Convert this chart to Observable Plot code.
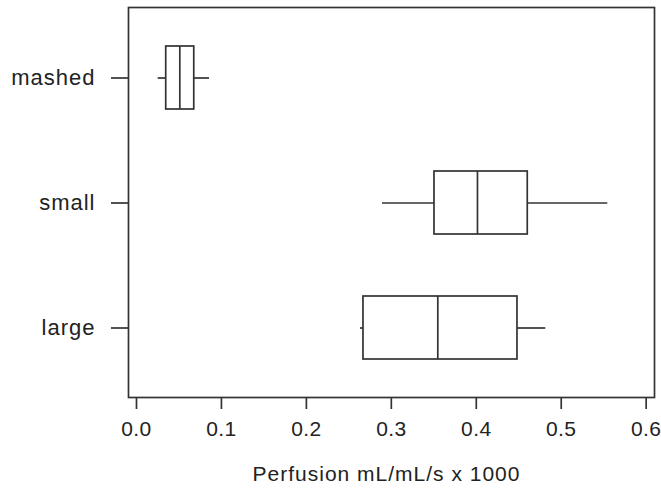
<!DOCTYPE html>
<html>
<head>
<meta charset="utf-8">
<script src="https://cdn.jsdelivr.net/npm/d3@7"></script>
<script src="https://cdn.jsdelivr.net/npm/@observablehq/plot@0.6"></script>
<style>
  html, body { margin: 0; padding: 0; background: #fff; }
  svg { display: block; }
  #chart svg text { letter-spacing: 1px; }
  #chart svg g[aria-label="x-axis tick label"] text { letter-spacing: 0.4px; }
</style>
</head>
<body>
<div id="chart"></div>
<script>
const categories = ["mashed", "small", "large"];
const whiskerLow  = [0.0255, 0.2896, 0.2637];
const q1          = [0.0350, 0.3508, 0.2672];
const median      = [0.0510, 0.4014, 0.3547];
const q3          = [0.0680, 0.4606, 0.4485];
const whiskerHigh = [0.0860, 0.5548, 0.4818];
const xTicks = [0, 0.1, 0.2, 0.3, 0.4, 0.5, 0.6];
const xTitle = "Perfusion mL/mL/s x 1000";

const rows = categories.map((c, i) => ({
  cat: c, lo: whiskerLow[i], q1: q1[i], med: median[i], q3: q3[i], hi: whiskerHigh[i]
}));

const ink = "#333";
const sw = 1.7;

const chart = Plot.plot({
  width: 661,
  height: 488,
  marginLeft: 128,
  marginRight: 7,
  marginTop: 7,
  marginBottom: 91,
  style: { fontFamily: "'Liberation Sans', Arial, sans-serif", background: "#fff", color: "#222" },
  x: { domain: [-0.0094, 0.6098] },
  y: { domain: categories, paddingInner: 0.5, paddingOuter: 0.298 },
  marks: [
    Plot.frame({ stroke: ink, strokeWidth: sw }),
    Plot.ruleY(rows, { y: "cat", x1: "lo", x2: "q1", stroke: ink, strokeWidth: sw }),
    Plot.ruleY(rows, { y: "cat", x1: "q3", x2: "hi", stroke: ink, strokeWidth: sw }),
    Plot.barX(rows, { y: "cat", x1: "q1", x2: "q3", fill: "#fff", stroke: ink, strokeWidth: sw }),
    Plot.tickX(rows, { y: "cat", x: "med", stroke: ink, strokeWidth: sw }),
    Plot.axisX({ ticks: xTicks, tickFormat: d3.format(".1f"), tickSize: 12, tickPadding: 12,
      fontSize: 21, label: null, stroke: ink, strokeWidth: sw, fill: "#222" }),
    Plot.axisY({ tickSize: 17, tickPadding: 16, fontSize: 22, label: null,
      stroke: ink, strokeWidth: sw, fill: "#222" }),
    Plot.text([xTitle], { frameAnchor: "bottom", lineAnchor: "top", dy: 69, dx: -5,
      fontSize: 21, fill: "#222" })
  ]
});

document.getElementById("chart").appendChild(chart);
</script>
</body>
</html>
